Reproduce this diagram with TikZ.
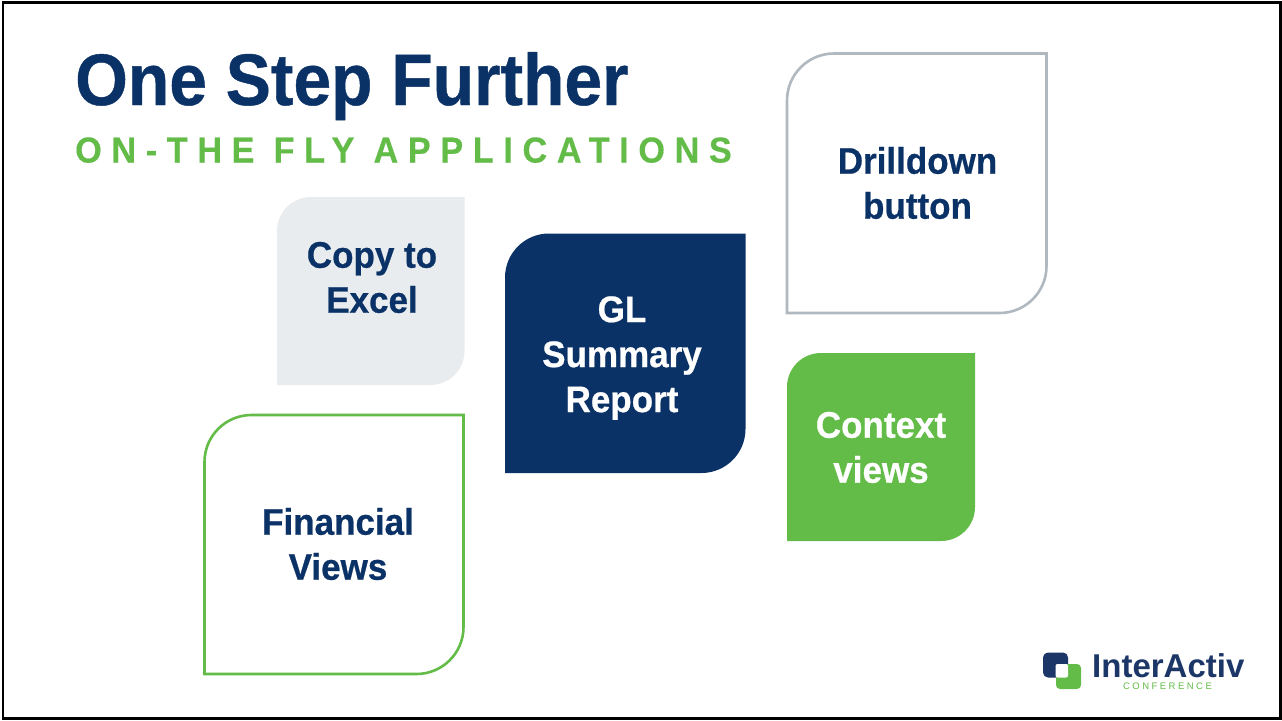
\documentclass[tikz,border=0pt]{standalone}
\usepackage{fontspec}
\setmainfont{Liberation Sans}
\newfontface\titlefont{Liberation Sans Bold}[FakeStretch=0.928,FakeBold=0.6]
\newfontface\subfont{Liberation Sans Bold}[FakeStretch=0.95,LetterSpace=26.8,FakeBold=0.3]
\newfontface\lblfont{Liberation Sans Bold}[FakeStretch=0.946,FakeBold=0.6]
\definecolor{navy}{HTML}{0B3266}
\definecolor{leaf}{HTML}{63BB48}
\definecolor{pale}{HTML}{E9ECEF}
\definecolor{steel}{HTML}{B0B8C0}
\definecolor{lognavy}{HTML}{1C3767}
\tikzset{
  lbl/.style={font=\lblfont\fontsize{37}{45}\selectfont,align=center,text=navy,inner sep=0pt},
  lblw/.style={lbl,text=white}
}
\newcommand{\leafpath}[5]{% x0 y0 x1 y1 r
  (#1+#5,#2) -- (#3,#2) -- (#3,#4-#5) arc[start angle=0,end angle=90,radius=#5]
  -- (#1,#4) -- (#1,#2+#5) arc[start angle=180,end angle=270,radius=#5] -- cycle}
\begin{document}
\begin{tikzpicture}[x=1pt,y=-1pt]
\useasboundingbox (0,0) rectangle (1282,720);
\fill[white] (0,0) rectangle (1282,720);
\draw[black,line width=2.6pt] (3,2.2) rectangle (1280.5,718.5);
\node[anchor=base west,inner sep=0pt,font=\titlefont\fontsize{73}{73}\selectfont,text=navy] (title) at (75,105) {One Step Further};
\node[anchor=base west,inner sep=0pt,font=\subfont\fontsize{36}{36}\selectfont,text=leaf] (sub) at (75,162.5) {ON-THE FLY APPLICATIONS};
% shapes
\fill[pale] \leafpath{277}{197}{464.5}{385}{34};
\node[lbl] (copy) at (372,277.5) {Copy to\\Excel};
\draw[leaf,line width=2.6pt] \leafpath{204.5}{415}{463.5}{674}{47};
\node[lbl] (fin) at (338,544) {Financial\\Views};
\fill[navy] \leafpath{505}{233.5}{745.5}{473}{44};
\node[lblw] (gl) at (622,358) {GL\\Summary\\Report};
\draw[steel,line width=2.6pt] \leafpath{787}{53.5}{1046.5}{313}{47};
\node[lbl] (drill) at (917.5,183) {Drilldown\\button};
\fill[leaf] \leafpath{787}{353}{975}{541}{34};
\node[lblw] (ctx) at (881,447.5) {Context\\views};
% logo
\fill[lognavy,rounded corners=5pt] (1043,652.5) rectangle (1068,677.5);
\fill[leaf,rounded corners=4pt] (1056,664) rectangle (1081,689);
\fill[white,rounded corners=2pt] (1055.5,664) rectangle (1068,677.5);
\node[anchor=base west,inner sep=0pt,font=\fontsize{33}{33}\selectfont\bfseries,text=lognavy] (logo) at (1092,677.5) {InterActiv};
\node[anchor=base,inner sep=0pt,font=\fontsize{9.5}{9.5}\selectfont,text=leaf] (conf) at (1167.5,689) {\addfontfeatures{LetterSpace=26}CONFERENCE};
\end{tikzpicture}
\end{document}
